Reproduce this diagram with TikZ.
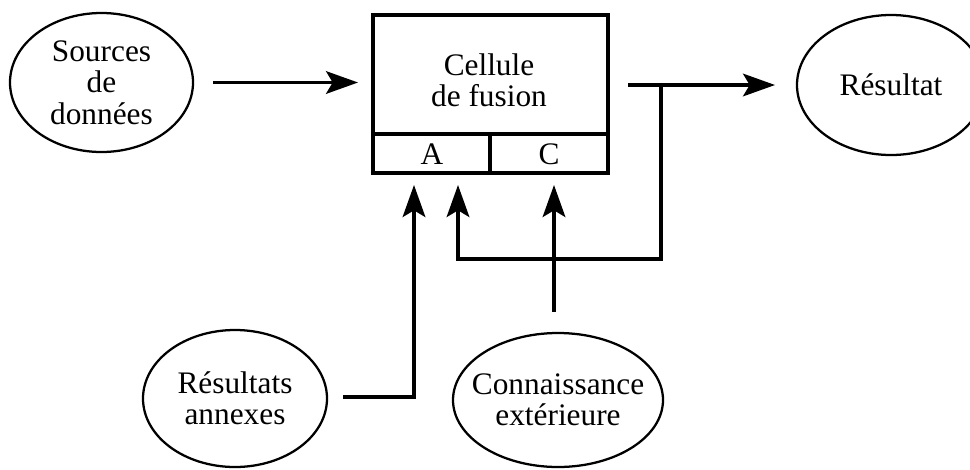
\documentclass[tikz,border=0pt]{standalone}
\usepackage{fontspec}
\setmainfont{Liberation Serif}
\usetikzlibrary{arrows.meta,shapes.geometric}
\begin{document}
\begin{tikzpicture}[x=0.75pt,y=-0.75pt,
  every node/.style={font=\fontsize{23.5}{23.5}\selectfont},
  oval/.style={ellipse,draw,line width=1.7pt,inner sep=0pt},
  txt/.style={align=center,inner sep=0pt},
  arr/.style={line width=2.3pt,-{Stealth[length=24pt,width=17pt,inset=5pt]}},
  thick box/.style={draw,line width=3pt,inner sep=0pt}]
\useasboundingbox (0,0) rectangle (970,469);
% ellipses
\node[oval,minimum width=137.25pt,minimum height=104.25pt] (src) at (101.5,82.5) {};
\node[txt] (srct) at (src) {Sources\\de\\données};
\node[oval,minimum width=141pt,minimum height=105pt] (res) at (891,85) {};
\node[txt] (rest) at (res) {Résultat};
\node[oval,minimum width=138pt,minimum height=102.75pt] (ra) at (235,398.5) {};
\node[txt] (rat) at (ra) {Résultats\\annexes};
\node[oval,minimum width=157.5pt,minimum height=100.5pt] (ck) at (558,400) {};
\node[txt] (ckt) at (ck) {Connaissance\\extérieure};
% fusion cell
\node[thick box,minimum width=176.25pt,minimum height=118.5pt] (cell) at (490.5,94) {};
\coordinate (divL) at (373,134);
\coordinate (divR) at (608,134);
\coordinate (divM) at (490,134);
\coordinate (divB) at (490,173);
\draw[line width=3pt] (divL) -- (divR);
\draw[line width=3pt] (divM) -- (divB);
\node[txt] (lbl) at (489,80) {Cellule\\de fusion};
\node (A) at (432,154) {A};
\node (C) at (549,154) {C};
% tips
\coordinate (tipA1) at (414,185);
\coordinate (tipA2) at (458,185);
\coordinate (tipC) at (554,185);
\coordinate (tap) at (661,85);
% connectors
\draw[arr,shorten <=19*0.75pt] (src.east) -- (src.east -| 358,0);
\draw[arr,shorten <=15*0.75pt] (ra.east |- 0,397) -| (tipA1);
\draw[arr,shorten <=20*0.75pt] (ck.north -| tipC) -- (tipC);
\draw[arr] (628,85) -- (775,85);
\draw[arr] (tap) -- ++(0,174) -| (tipA2);
\end{tikzpicture}
\end{document}
